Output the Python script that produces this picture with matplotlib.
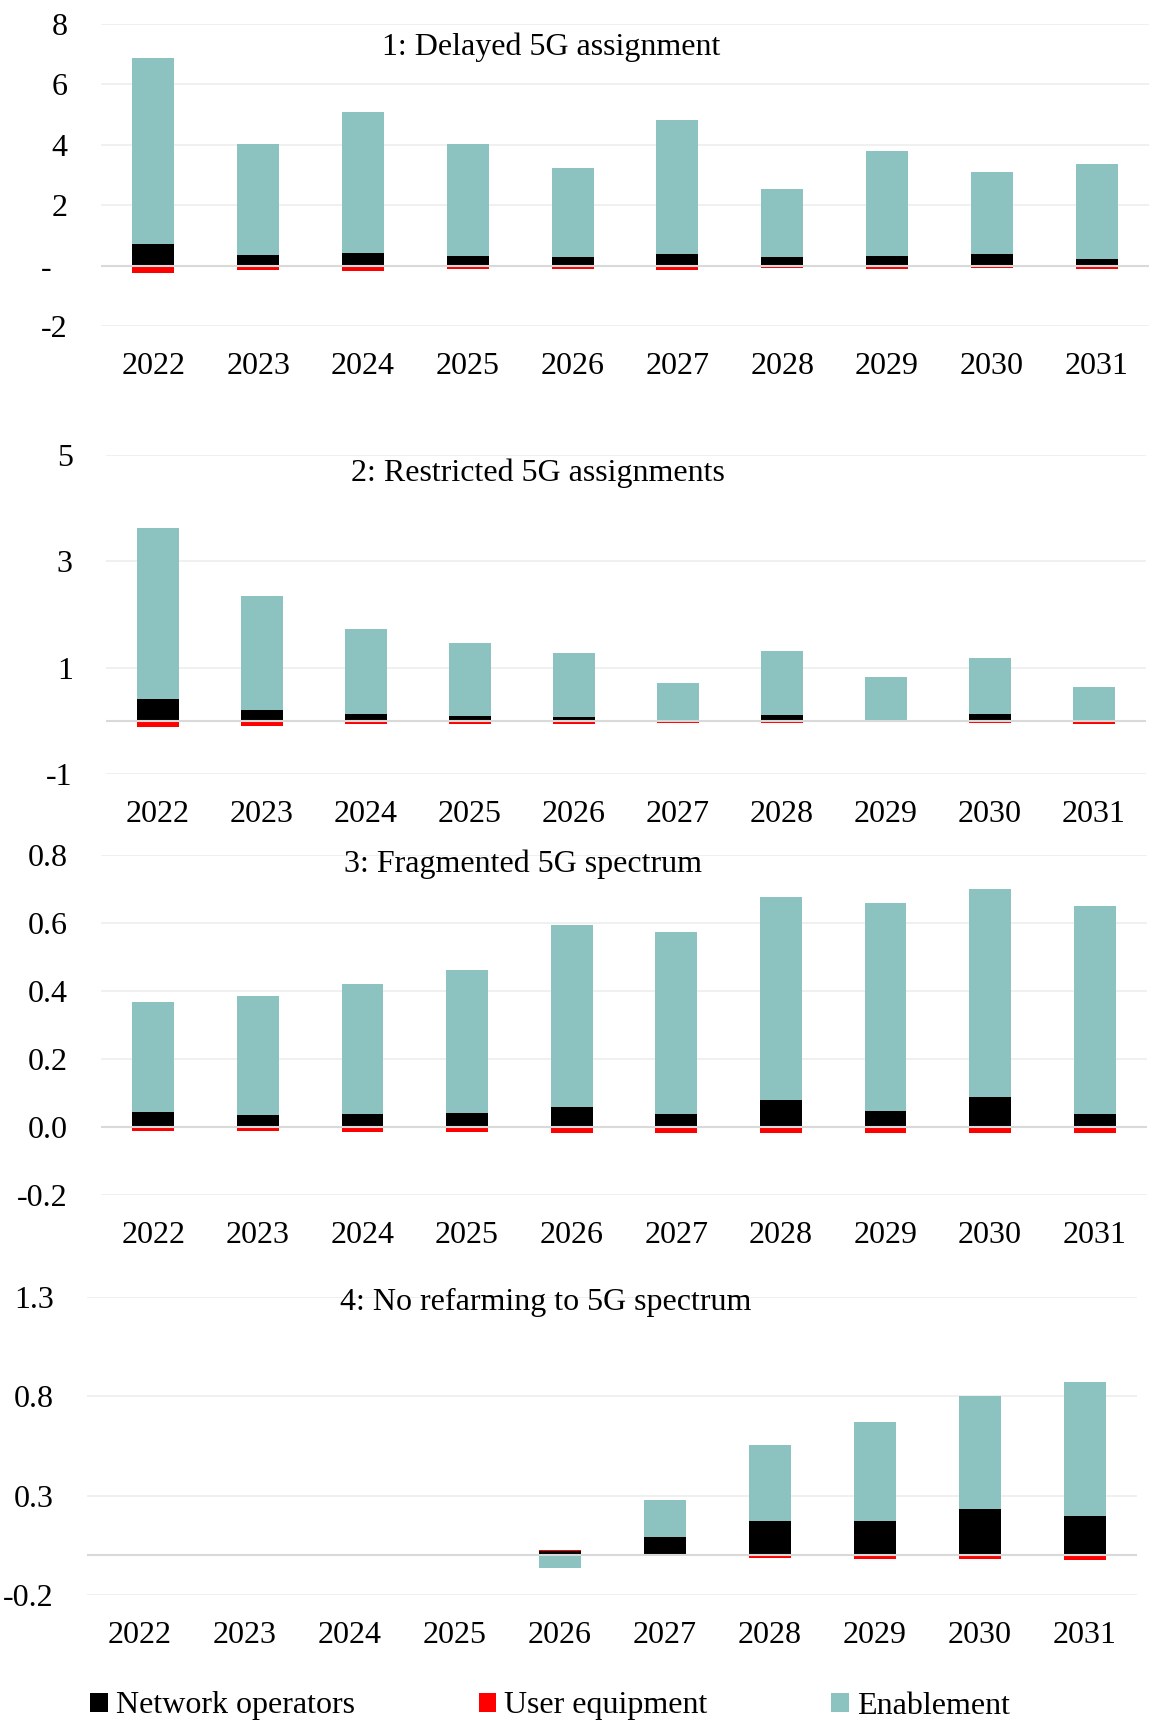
import numpy as np
import matplotlib.pyplot as plt

plt.rcParams['font.family'] = ['Liberation Serif', 'DejaVu Serif']

years = ['2022', '2023', '2024', '2025', '2026', '2027', '2028', '2029', '2030', '2031']

# Panel 1: Delayed 5G assignment
net1 = [0.71, 0.34, 0.42, 0.32, 0.29, 0.39, 0.30, 0.32, 0.37, 0.22]
ue1 = [-0.23, -0.13, -0.17, -0.12, -0.10, -0.14, -0.07, -0.11, -0.08, -0.10]
ena1 = [6.16, 3.69, 4.68, 3.71, 2.95, 4.42, 2.25, 3.46, 2.73, 3.16]

# Panel 2: Restricted 5G assignments
net2 = [0.42, 0.20, 0.12, 0.09, 0.07, 0.00, 0.11, 0.00, 0.13, -0.01]
ue2 = [-0.12, -0.09, -0.06, -0.06, -0.06, -0.05, -0.04, -0.03, -0.04, -0.05]
ena2 = [3.21, 2.15, 1.60, 1.37, 1.20, 0.71, 1.20, 0.83, 1.06, 0.63]

# Panel 3: Fragmented 5G spectrum
net3 = [0.045, 0.036, 0.037, 0.042, 0.058, 0.039, 0.080, 0.048, 0.089, 0.038]
ue3 = [-0.012, -0.013, -0.014, -0.015, -0.019, -0.018, -0.019, -0.019, -0.019, -0.019]
ena3 = [0.323, 0.349, 0.383, 0.420, 0.535, 0.535, 0.597, 0.612, 0.610, 0.613]

# Panel 4: No refarming to 5G spectrum
net4 = [0, 0, 0, 0, 0.020, 0.092, 0.172, 0.174, 0.231, 0.197]
ue4 = [0, 0, 0, 0, 0.005, -0.005, -0.014, -0.019, -0.020, -0.024]
ena4 = [0, 0, 0, 0, -0.065, 0.188, 0.385, 0.499, 0.573, 0.676]

titles = ['1: Delayed 5G assignment', '2: Restricted 5G assignments',
          '3: Fragmented 5G spectrum', '4: No refarming to 5G spectrum']
yticks = [[-2, 0, 2, 4, 6, 8], [-1, 1, 3, 5],
          [-0.2, 0.0, 0.2, 0.4, 0.6, 0.8], [-0.2, 0.3, 0.8, 1.3]]
ytick_labels = [['-2', '-  ', '2', '4', '6', '8'], ['-1', '1', '3', '5'],
                ['-0.2', '0.0', '0.2', '0.4', '0.6', '0.8'], ['-0.2', '0.3', '0.8', '1.3']]

series_names = ['Network operators', 'User equipment', 'Enablement']
colors = ['#000000', '#FF0000', '#8CC3C0']

W, H = 1150, 1720
# axes boxes in pixels: left, right, top, bottom
boxes = [(101, 1149, 24, 326), (106, 1146, 455, 774),
         (101, 1147, 855, 1195), (87, 1137, 1297, 1595)]
title_pos = [(551, 47), (538, 473), (523, 864), (546, 1302)]

fig = plt.figure(figsize=(W / 100, H / 100), dpi=100)

panels = [(net1, ue1, ena1), (net2, ue2, ena2), (net3, ue3, ena3), (net4, ue4, ena4)]
x = np.arange(len(years))
for i, data in enumerate(panels):
    l, r, t, b = boxes[i]
    ax = fig.add_axes([l / W, 1 - b / H, (r - l) / W, (b - t) / H])
    pos = np.zeros(len(years))
    neg = np.zeros(len(years))
    for vals, c, name in zip(data, colors, series_names):
        vals = np.array(vals, dtype=float)
        bottom = np.where(vals >= 0, pos, neg)
        ax.bar(x, vals, 0.4, bottom=bottom, color=c, label=name, zorder=2)
        pos = pos + np.where(vals >= 0, vals, 0)
        neg = neg + np.where(vals < 0, vals, 0)
    ax.set_xlim(-0.5, len(years) - 0.5)
    ax.set_ylim(yticks[i][0], yticks[i][-1])
    ax.set_yticks(yticks[i])
    ax.set_yticklabels(ytick_labels[i])
    ax.set_xticks(x)
    ax.set_xticklabels(years)
    ax.tick_params(axis='both', length=0, labelsize=23)
    ax.tick_params(axis='y', pad=24)
    ax.tick_params(axis='x', pad=19)
    for s in ax.spines.values():
        s.set_visible(False)
    ax.grid(axis='y', color='#EFEFEF', linewidth=1.3, zorder=0)
    ax.axhline(0, color='#D9D9D9', linewidth=1.5, zorder=3)
    fig.text(title_pos[i][0] / W, 1 - title_pos[i][1] / H, titles[i],
             ha='center', va='center', fontsize=23)

handles, labels = ax.get_legend_handles_labels()
fig.legend(handles, labels, loc='center left', bbox_to_anchor=(90 / W, 1 - 1706 / H),
           ncol=3, frameon=False, fontsize=23, handlelength=0.55, handleheight=0.55,
           handletextpad=0.25, columnspacing=3.88, borderpad=0, borderaxespad=0)

fig.savefig('out.png', dpi=100)
